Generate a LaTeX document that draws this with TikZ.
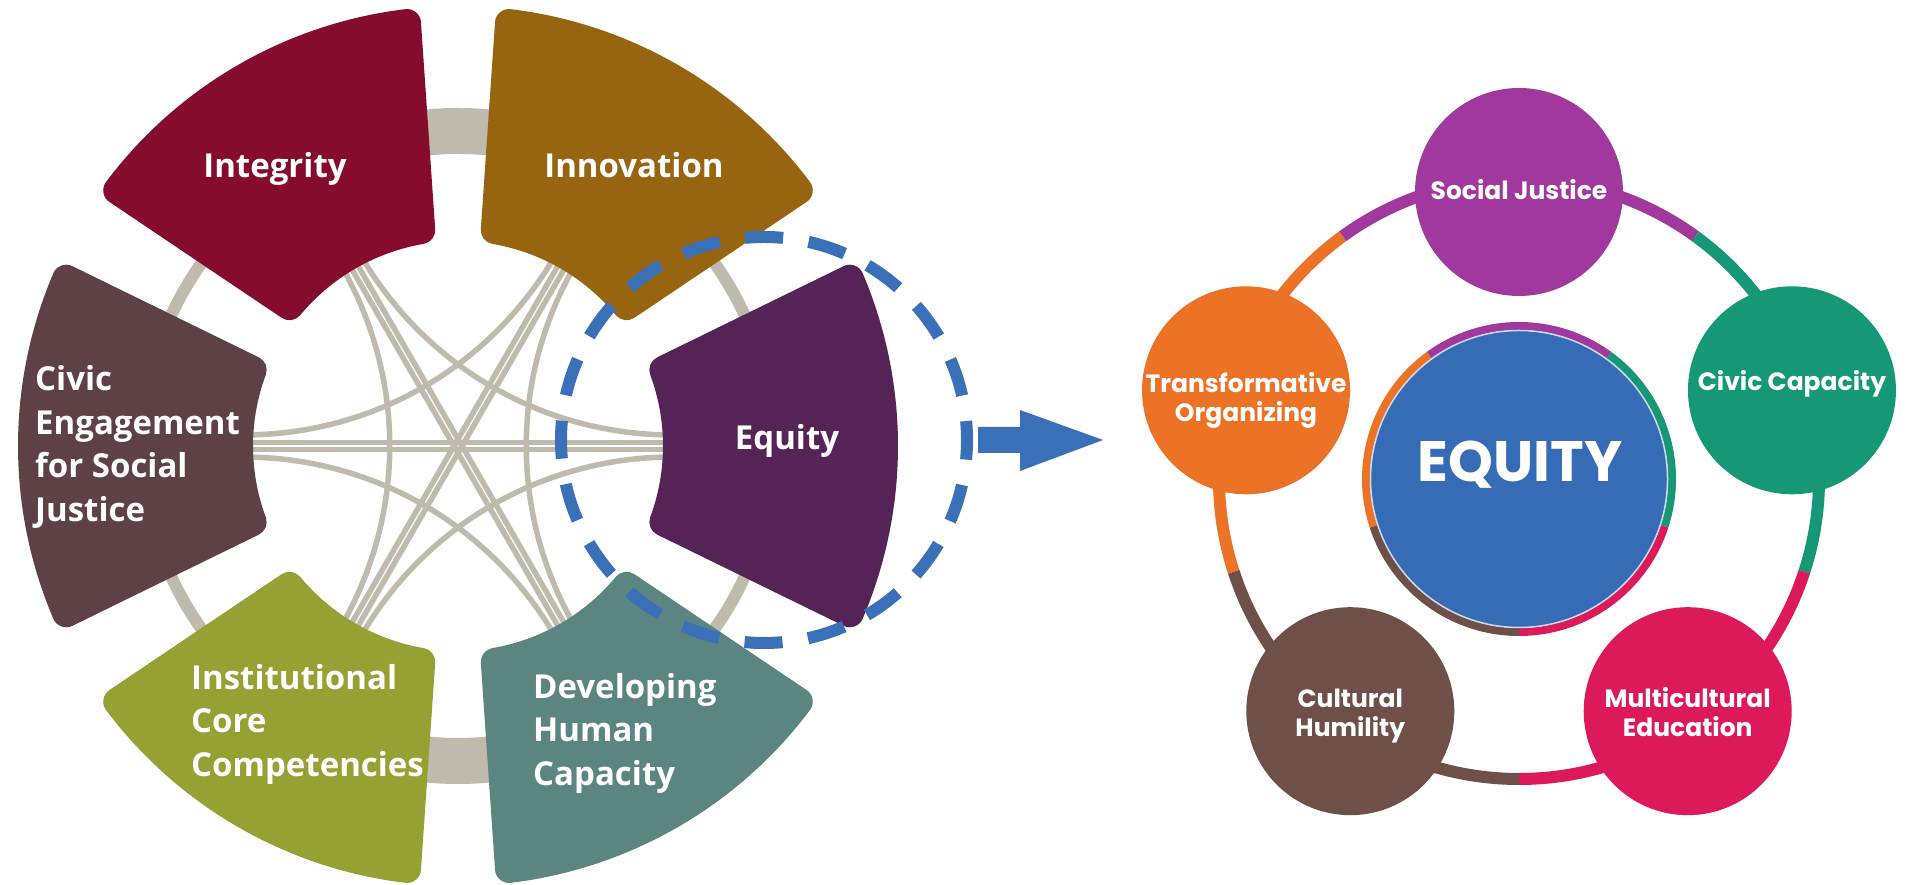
\documentclass[tikz,border=0pt]{standalone}
\usepackage{fontspec}
\setmainfont{Open Sans}
\newfontfamily\bubblefont{Poppins}
\usetikzlibrary{calc}

% colours
\definecolor{chordgray}{RGB}{191,186,172}
\definecolor{equitycol}{RGB}{85,35,86}
\definecolor{innovcol}{RGB}{151,101,15}
\definecolor{integritycol}{RGB}{133,12,44}
\definecolor{civiccol}{RGB}{94,65,68}
\definecolor{corecol}{RGB}{150,160,51}
\definecolor{humancol}{RGB}{90,133,128}
\definecolor{focusblue}{RGB}{58,112,184}
\definecolor{sjcol}{RGB}{160,56,158}
\definecolor{civcapcol}{RGB}{22,152,118}
\definecolor{multicol}{RGB}{220,26,90}
\definecolor{humilcol}{RGB}{110,80,72}
\definecolor{transcol}{RGB}{236,115,38}
\definecolor{equityblue}{RGB}{54,108,181}

\tikzset{
  wheelseg/.style={line width=28pt, line join=round},
  chord/.style={draw=chordgray, line width=5.5pt},
  wheellabel/.style={text=white, inner sep=0pt,
    font=\bfseries\fontsize{33}{43.5}\selectfont},
  bubble/.style={circle, minimum size=208pt, inner sep=0pt},
  bubbletext/.style={text=white, inner sep=0pt, align=center,
    font=\bubblefont\bfseries\fontsize{25}{29}\selectfont},
}

\begin{document}
\begin{tikzpicture}[x=1pt,y=1pt]
    \useasboundingbox (0,0) rectangle (1910,885);
    \fill[white] (0,0) rectangle (1910,885);

    % ---- ruota a sinistra ----
    \begin{scope}[shift={(458,439)}]
        % anello grigio
        \draw[chordgray, line width=12pt] (0,0) circle (315pt);
        \draw[chordgray, line width=46pt] (80:315pt) arc (80:100:315pt);
        \draw[chordgray, line width=46pt] (260:315pt) arc (260:280:315pt);

        % corde curve (120 gradi)
        \foreach \a in {0,60,...,300}{
            \draw[chord] ($(\a:215pt)+(\a+90:11pt)$)
                .. controls ($(\a:85pt)+(\a+90:11pt)$) and ($(\a+120:85pt)+(\a+30:11pt)$)
                .. ($(\a+120:215pt)+(\a+30:11pt)$);
        }
        % corde dritte (180 gradi)
        \foreach \a in {0,60,120}{
            \draw[chord] ($(\a:215pt)+(\a+90:3.5pt)$) -- ($(\a+180:215pt)+(\a+90:3.5pt)$);
            \draw[chord] ($(\a:215pt)+(\a-90:3.5pt)$) -- ($(\a+180:215pt)+(\a-90:3.5pt)$);
        }

        % settori (bordo spesso = angoli arrotondati)
        \foreach \a/\col in {0/equitycol, 60/innovcol, 120/integritycol,
                             180/civiccol, 240/corecol, 300/humancol}{
            \filldraw[\col, wheelseg] (\a-20.33:219pt) -- (\a-23.12:426pt)
                arc (\a-23.12:\a+23.12:426pt) -- (\a+20.33:219pt)
                arc (\a+20.33:\a-20.33:219pt) -- cycle;
        }
    \end{scope}

    % nomi settori
    \node[wheellabel, anchor=base] (integrity) at (275,707) {Integrity};
    \node[wheellabel, anchor=base] (innovation) at (634,707) {Innovation};
    \node[wheellabel, anchor=base] (equity) at (787,435) {Equity};
    \node[wheellabel, anchor=west, align=left] (civic) at (35,438)
        {Civic\\Engagement\\for Social\\Justice};
    \node[wheellabel, anchor=west, align=left] (core) at (191,161)
        {Institutional\\Core\\Competencies};
    \node[wheellabel, anchor=west, align=left] (human) at (533,152)
        {Developing\\Human\\Capacity};

    % cerchio tratteggiato e freccia
    \draw[focusblue, line width=12pt, dash pattern=on 38pt off 25.75pt, dash phase=19pt]
        (764,445) circle (203pt);
    \fill[focusblue] (978,458) -- (1020,458) -- (1020,475) -- (1103,445)
        -- (1020,414) -- (1020,432) -- (978,432) -- cycle;

    % ---- pentagono a destra ----
    \begin{scope}[shift={(1519,406)}]
        % anelli colorati
        \foreach \a/\col in {90/sjcol, 18/civcapcol, -54/multicol,
                             -126/humilcol, 162/transcol}{
            \draw[\col, line width=12pt] (\a-36:300pt) arc (\a-36:\a+36:300pt);
            \draw[\col, line width=8pt] (\a-36:153pt) arc (\a-36:\a+36:153pt);
        }
        \node[circle, fill=equityblue, draw=white!75!equityblue, line width=1.5pt,
              minimum size=297pt, inner sep=0pt] (equitycore) at (0,0) {};

        % cerchi
        \node[bubble, fill=sjcol, label={[bubbletext, yshift=2pt]center:Social Justice}]
            (social) at (90:287pt) {};
        \node[bubble, fill=civcapcol, label={[bubbletext, yshift=6pt]center:Civic Capacity}]
            (civcap) at (18:287pt) {};
        \node[bubble, fill=multicol, label={[bubbletext, yshift=-1pt]center:Multicultural\\Education}]
            (multi) at (-54:287pt) {};
        \node[bubble, fill=humilcol, label={[bubbletext, yshift=-5pt]center:Cultural\\Humility}]
            (humility) at (-126:287pt) {};
        \node[bubble, fill=transcol, label={[bubbletext, yshift=-10pt]center:Transformative\\Organizing}]
            (trans) at (162:287pt) {};
    \end{scope}

    \node[anchor=base, text=white, inner sep=0pt,
          font=\bubblefont\bfseries\fontsize{57}{60}\selectfont] (equitytext)
        at (1520,403) {EQUITY};
\end{tikzpicture}
\end{document}
